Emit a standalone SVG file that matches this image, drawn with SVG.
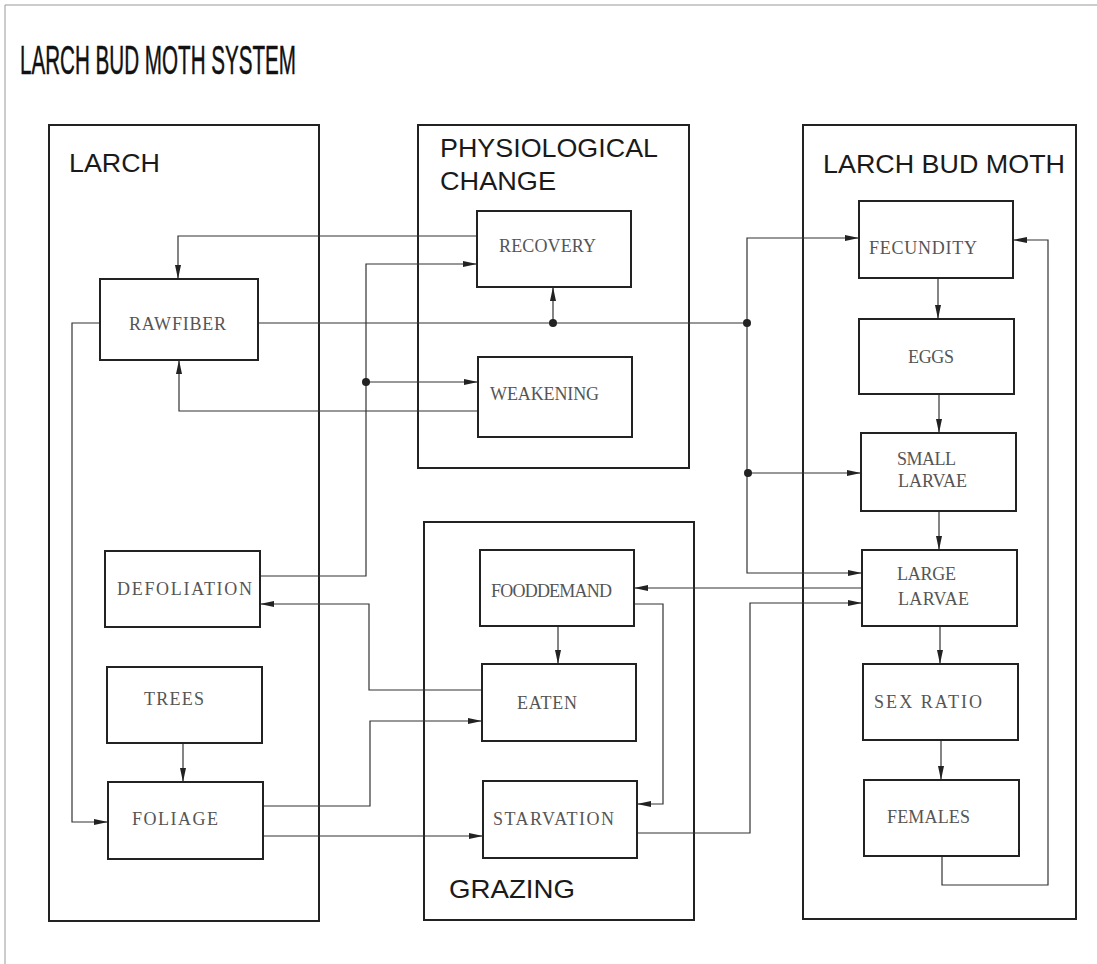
<svg xmlns="http://www.w3.org/2000/svg" width="1097" height="964" viewBox="0 0 1097 964">
<style>
.grp{fill:none;stroke:#222;stroke-width:2}
.nd{fill:#fff;stroke:#222;stroke-width:2}
.gl{font-family:"Liberation Sans",Arial,sans-serif;font-size:26px;fill:#1a1a1a}
.nt{font-family:"Liberation Serif","Times New Roman",serif;font-size:18px;fill:#555}
.cn{fill:none;stroke:#333;stroke-width:1.2}
.ar{marker-end:url(#ah)}
.dot{fill:#222}
</style>
<defs>
<marker id="ah" markerUnits="userSpaceOnUse" markerWidth="15" markerHeight="7" refX="14" refY="3" orient="auto">
<path d="M0,0 L14,3 L0,6 z" fill="#222"/>
</marker>
</defs>
<rect width="1097" height="964" fill="#fff"/>
<path d="M5,964 V5 H1097" fill="none" stroke="#999" stroke-width="1"/>
<text id="title" x="20" y="74" font-family="'Liberation Sans',Arial,sans-serif" font-size="41" fill="#111" stroke="#111" stroke-width="0.5" textLength="276" lengthAdjust="spacingAndGlyphs">LARCH BUD MOTH SYSTEM</text>

<g id="larch-group">
<rect class="grp" x="49" y="125" width="270" height="796"/>
<text class="gl" x="69" y="172" textLength="91" lengthAdjust="spacingAndGlyphs">LARCH</text>
</g>
<g id="physio-group">
<rect class="grp" x="418" y="125" width="271" height="343"/>
<text class="gl" x="440" y="157" textLength="218" lengthAdjust="spacingAndGlyphs">PHYSIOLOGICAL</text>
<text class="gl" x="440" y="190" textLength="116" lengthAdjust="spacingAndGlyphs">CHANGE</text>
</g>
<g id="grazing-group">
<rect class="grp" x="424" y="522" width="270" height="398"/>
<text class="gl" x="449" y="898" textLength="126" lengthAdjust="spacingAndGlyphs">GRAZING</text>
</g>
<g id="moth-group">
<rect class="grp" x="803" y="125" width="273" height="794"/>
<text class="gl" x="823" y="173" textLength="242" lengthAdjust="spacingAndGlyphs">LARCH BUD MOTH</text>
</g>

<g id="connectors">
<path class="cn ar" d="M477,236 H178 V279"/>
<path class="cn ar" d="M478,411 H179 V360"/>
<path class="cn" d="M258,323 H747"/>
<path class="cn ar" d="M553,323 V287"/>
<path class="cn ar" d="M747,323 V238 H859"/>
<path class="cn ar" d="M747,323 V573 H862"/>
<path class="cn ar" d="M748,473 H861"/>
<path class="cn ar" d="M100,323 H72 V822 H108"/>
<path class="cn ar" d="M260,576 H366 V264 H477"/>
<path class="cn ar" d="M366,382 H478"/>
<path class="cn ar" d="M482,690 H369 V604 H260"/>
<path class="cn ar" d="M263,806 H370 V721 H482"/>
<path class="cn ar" d="M263,836 H483"/>
<path class="cn ar" d="M183,743 V782"/>
<path class="cn ar" d="M558,626 V664"/>
<path class="cn ar" d="M634,604 H663 V804 H637"/>
<path class="cn ar" d="M862,588 H634"/>
<path class="cn ar" d="M637,833 H750 V603 H862"/>
<path class="cn ar" d="M938,278 V319"/>
<path class="cn ar" d="M939,394 V433"/>
<path class="cn ar" d="M939,511 V550"/>
<path class="cn ar" d="M940,626 V664"/>
<path class="cn ar" d="M941,740 V780"/>
<path class="cn ar" d="M942,856 V885 H1048 V240 H1013"/>
<circle class="dot" cx="553" cy="323" r="4"/>
<circle class="dot" cx="747" cy="323" r="4"/>
<circle class="dot" cx="748" cy="473" r="4"/>
<circle class="dot" cx="366" cy="382" r="4"/>
</g>

<g id="rawfiber"><rect class="nd" x="100" y="279" width="158" height="81"/><text class="nt" x="129" y="330" textLength="97" lengthAdjust="spacing">RAWFIBER</text></g>
<g id="defoliation"><rect class="nd" x="105" y="551" width="155" height="76"/><text class="nt" x="117" y="595" textLength="135" lengthAdjust="spacing">DEFOLIATION</text></g>
<g id="trees"><rect class="nd" x="107" y="667" width="155" height="76"/><text class="nt" x="144" y="705" textLength="60" lengthAdjust="spacing">TREES</text></g>
<g id="foliage"><rect class="nd" x="108" y="782" width="155" height="77"/><text class="nt" x="132" y="825" textLength="86" lengthAdjust="spacing">FOLIAGE</text></g>

<g id="recovery"><rect class="nd" x="477" y="211" width="154" height="76"/><text class="nt" x="499" y="252" textLength="97" lengthAdjust="spacing">RECOVERY</text></g>
<g id="weakening"><rect class="nd" x="478" y="357" width="154" height="80"/><text class="nt" x="490" y="400" textLength="109" lengthAdjust="spacing">WEAKENING</text></g>

<g id="fooddemand"><rect class="nd" x="480" y="550" width="154" height="76"/><text class="nt" x="491" y="597" textLength="121" lengthAdjust="spacing">FOODDEMAND</text></g>
<g id="eaten"><rect class="nd" x="482" y="664" width="154" height="77"/><text class="nt" x="517" y="709" textLength="60" lengthAdjust="spacing">EATEN</text></g>
<g id="starvation"><rect class="nd" x="483" y="781" width="154" height="77"/><text class="nt" x="493" y="825" textLength="121" lengthAdjust="spacing">STARVATION</text></g>

<g id="fecundity"><rect class="nd" x="859" y="201" width="154" height="77"/><text class="nt" x="869" y="254" textLength="108" lengthAdjust="spacing">FECUNDITY</text></g>
<g id="eggs"><rect class="nd" x="859" y="319" width="155" height="75"/><text class="nt" x="908" y="363" textLength="46" lengthAdjust="spacing">EGGS</text></g>
<g id="small-larvae"><rect class="nd" x="861" y="433" width="155" height="78"/><text class="nt" x="897" y="465" textLength="59" lengthAdjust="spacing">SMALL</text><text class="nt" x="898" y="487" textLength="69" lengthAdjust="spacing">LARVAE</text></g>
<g id="large-larvae"><rect class="nd" x="862" y="550" width="155" height="76"/><text class="nt" x="897" y="580" textLength="59" lengthAdjust="spacing">LARGE</text><text class="nt" x="898" y="605" textLength="71" lengthAdjust="spacing">LARVAE</text></g>
<g id="sex-ratio"><rect class="nd" x="863" y="664" width="155" height="76"/><text class="nt" x="874" y="708" textLength="108" lengthAdjust="spacing">SEX RATIO</text></g>
<g id="females"><rect class="nd" x="864" y="780" width="155" height="76"/><text class="nt" x="887" y="823" textLength="83" lengthAdjust="spacing">FEMALES</text></g>
</svg>
